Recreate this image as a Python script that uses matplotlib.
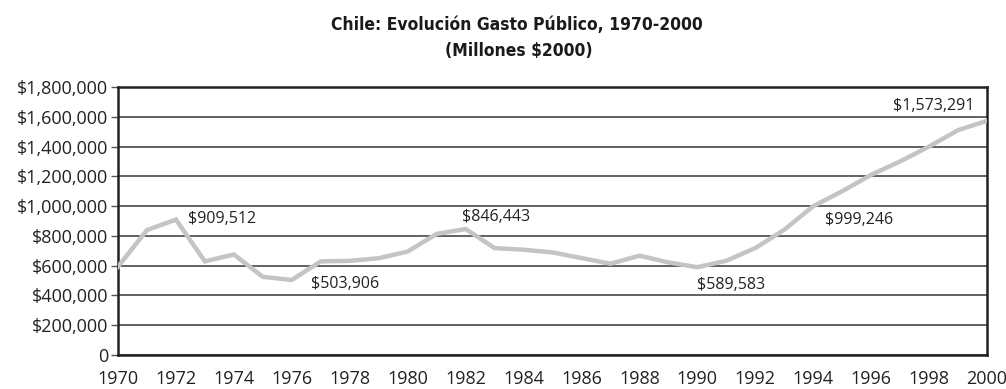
import matplotlib
matplotlib.use("Agg")
import matplotlib.pyplot as plt
from matplotlib.ticker import FuncFormatter, MultipleLocator

years = list(range(1970, 2001))
gasto = [593000, 839000, 909512, 629000, 675000, 525000, 503906, 629000,
         632000, 650000, 695000, 813000, 846443, 718000, 707000, 689000,
         651000, 613000, 667000, 622000, 589583, 633000, 718000, 841000,
         999246, 1100000, 1210000, 1300000, 1400000, 1510000, 1573291]

# annotated points and where their value labels sit
label_years = [1972, 1976, 1982, 1990, 1994, 2000]
label_x = [1973.6, 1977.85, 1983.05, 1991.15, 1995.6, 1998.15]
label_y = [915000, 475000, 930000, 470000, 905000, 1670000]

fig = plt.figure(figsize=(10.06, 3.89), dpi=100)
ax = fig.add_axes([118 / 1006, 1 - 355 / 389, (987 - 118) / 1006, (355 - 87) / 389])

ax.plot(years, gasto, color="#c4c4c4", lw=3.2, solid_joinstyle="miter", zorder=3)

for yr, lx, ly in zip(label_years, label_x, label_y):
    v = gasto[years.index(yr)]
    ax.text(lx, ly, f"${v:,}", ha="center", va="center", fontsize=11.5,
            family="Open Sans", color="#222222", zorder=4)

ax.set_xlim(1970, 2000)
ax.set_ylim(0, 1800000)
ax.xaxis.set_major_locator(MultipleLocator(2))
ax.yaxis.set_major_locator(MultipleLocator(200000))
ax.yaxis.set_major_formatter(FuncFormatter(lambda v, p: "0" if v == 0 else f"${int(v):,}"))
ax.grid(axis="y", color="#555555", lw=1.3, zorder=1)
ax.tick_params(axis="x", length=0, pad=11, labelsize=13)
ax.tick_params(axis="y", length=5, width=1, color="#555555", pad=2, labelsize=13)
for lab in ax.get_xticklabels() + ax.get_yticklabels():
    lab.set_family("Open Sans")
    lab.set_color("#222222")
for s in ax.spines.values():
    s.set_linewidth(1.8)
    s.set_color("#222222")

title_kw = dict(ha="center", va="center", fontsize=12.5, fontweight="heavy",
                family="DejaVu Sans", fontstretch="condensed", color="#1a1a1a")
fig.text(517 / 1006, 1 - 25 / 389, "Chile: Evolución Gasto Público, 1970-2000", **title_kw)
fig.text(519 / 1006, 1 - 51 / 389, "(Millones $2000)", **title_kw)

fig.savefig("out.png", dpi=100)
